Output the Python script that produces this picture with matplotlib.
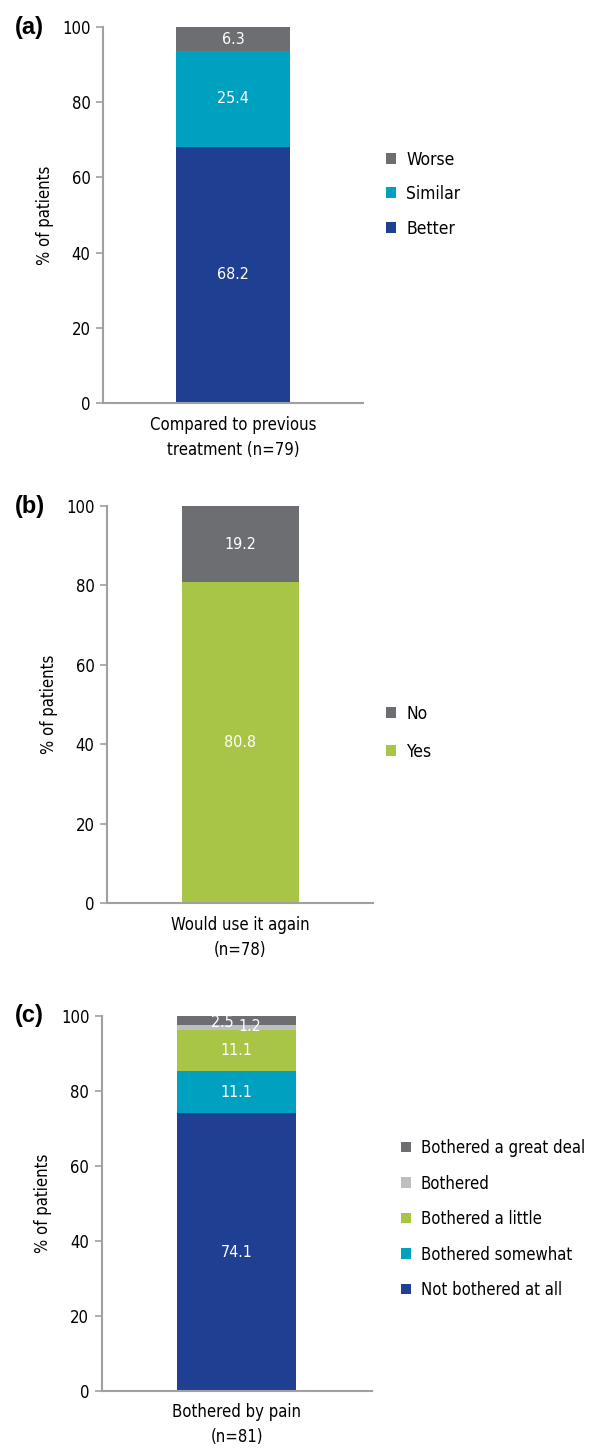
import matplotlib
matplotlib.use("Agg")
import matplotlib.pyplot as plt

plt.rcParams["font.family"] = ["DejaVu Sans"]
plt.rcParams["font.stretch"] = "condensed"

# panel (a)
a_category = "Compared to previous\ntreatment (n=79)"
a_labels = ["Better", "Similar", "Worse"]
a_values = [68.2, 25.4, 6.3]

# panel (b)
b_category = "Would use it again\n(n=78)"
b_labels = ["Yes", "No"]
b_values = [80.8, 19.2]

# panel (c)
c_category = "Bothered by pain\n(n=81)"
c_labels = ["Not bothered at all", "Bothered somewhat", "Bothered a little",
            "Bothered", "Bothered a great deal"]
c_values = [74.1, 11.1, 11.1, 1.2, 2.5]

yticks = [0, 20, 40, 60, 80, 100]

DARK = "#6d6e71"
LIGHT = "#bcbec0"
TEAL = "#00a0c0"
BLUE = "#1f3f93"
GREEN = "#a8c545"
AXC = "#a0a0a0"

fig = plt.figure(figsize=(5.92, 14.53), dpi=100)


def panel(rect, tag, category, labels, values, colors, leg_anchor,
          leg_size=12.5, leg_space=1.0, text_off=None):
    ax = fig.add_axes(rect)
    bottom = 0
    handles = []
    for i, (lab, v, c) in enumerate(zip(labels, values, colors)):
        h = ax.bar(0, v, bottom=bottom, width=0.88, color=c, label=lab)
        handles.append(h)
        dx, dy = (0, 0) if text_off is None else text_off[i]
        ax.text(dx, bottom + v / 2 + dy, f"{v:.1f}", ha="center", va="center",
                color="white", fontsize=11.5)
        bottom += v
    ax.set_xlim(-1, 1)
    ax.set_ylim(0, 100)
    ax.set_yticks(yticks)
    ax.set_xticks([0])
    ax.set_xticklabels([category], fontsize=12, linespacing=1.5)
    ax.tick_params(axis="x", length=0, pad=9)
    ax.tick_params(axis="y", labelsize=12, color=AXC, length=5, width=1.2, pad=4)
    for s in ["top", "right"]:
        ax.spines[s].set_visible(False)
    for s in ["left", "bottom"]:
        ax.spines[s].set_color(AXC)
        ax.spines[s].set_linewidth(1.5)
    ax.set_ylabel("% of patients", fontsize=12, labelpad=6)
    fig.text(0.025, rect[1] + rect[3], tag, fontsize=17, fontweight="bold",
             family="Liberation Sans", fontstretch="normal", va="center")
    ax.legend(handles[::-1], labels[::-1], loc="upper left", bbox_to_anchor=leg_anchor,
              bbox_transform=fig.transFigure, frameon=False, fontsize=leg_size,
              handlelength=0.6, handleheight=0.6, handletextpad=0.6,
              labelspacing=leg_space)
    return ax


panel([0.174, 0.7226, 0.439, 0.2588], "(a)", a_category, a_labels, a_values,
      [BLUE, TEAL, DARK], (0.625, 0.9071), leg_space=0.95)
panel([0.181, 0.3785, 0.449, 0.2732], "(b)", b_category, b_labels, b_values,
      [GREEN, DARK], (0.625, 0.5258), leg_space=1.15)
panel([0.172, 0.0427, 0.456, 0.2581], "(c)", c_category, c_labels, c_values,
      [BLUE, TEAL, GREEN, LIGHT, DARK], (0.652, 0.2264), leg_size=12, leg_space=1.05,
      text_off=[(0, 0), (0, 0), (0, 0), (0.10, 0.2), (-0.11, -0.4)])

fig.savefig("out.png", dpi=100)
